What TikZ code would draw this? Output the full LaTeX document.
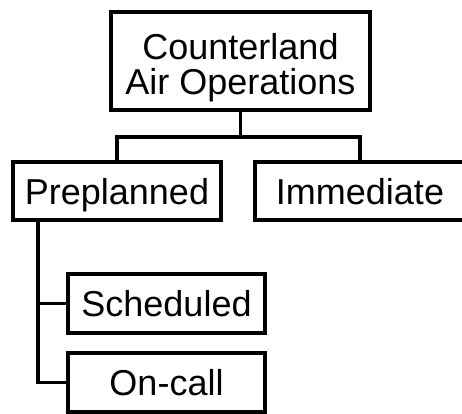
\documentclass[tikz,border=0pt]{standalone}
\usepackage{fontspec}
\setmainfont{Liberation Sans}
\usetikzlibrary{calc}

\begin{document}
\begin{tikzpicture}[x=1pt,y=-1pt]
  \tikzstyle{box} = [rectangle,draw=black,line width=3.5pt,inner sep=0pt,
  font=\fontsize{36}{35}\selectfont,align=center,
  text height=26pt,text depth=0pt]
  \tikzstyle{link} = [line width=3.5pt]

  \useasboundingbox (0,0) rectangle (462,413);

  \node[box,name=cao,minimum width=259pt,minimum height=98pt,
  text height=66pt] at (240.5,61) {Counterland\\Air Operations};
  \node[box,name=pre,minimum width=208pt,minimum height=58pt] at (117,191) {Preplanned};
  \node[box,name=imm,minimum width=210pt,minimum height=58pt] at (360,191) {Immediate};
  \node[box,name=sch,minimum width=197pt,minimum height=59pt] at (166.5,303.5) {Scheduled};
  \node[box,name=onc,minimum width=197pt,minimum height=59pt] at (166.5,382.5) {On-call};

  % tree lines
  \coordinate (fork) at ($(cao.south)+(0,25)$);
  \draw[link] (cao.south) -- (fork);
  \draw[link] (fork) -| (pre.north);
  \draw[link] (fork) -| (imm.north);

  \coordinate (trunk) at ($(pre.south)+(-79,0)$);
  \draw[link] (trunk) |- (sch.west);
  \draw[link] (trunk) |- (onc.west);

\end{tikzpicture}
\end{document}
